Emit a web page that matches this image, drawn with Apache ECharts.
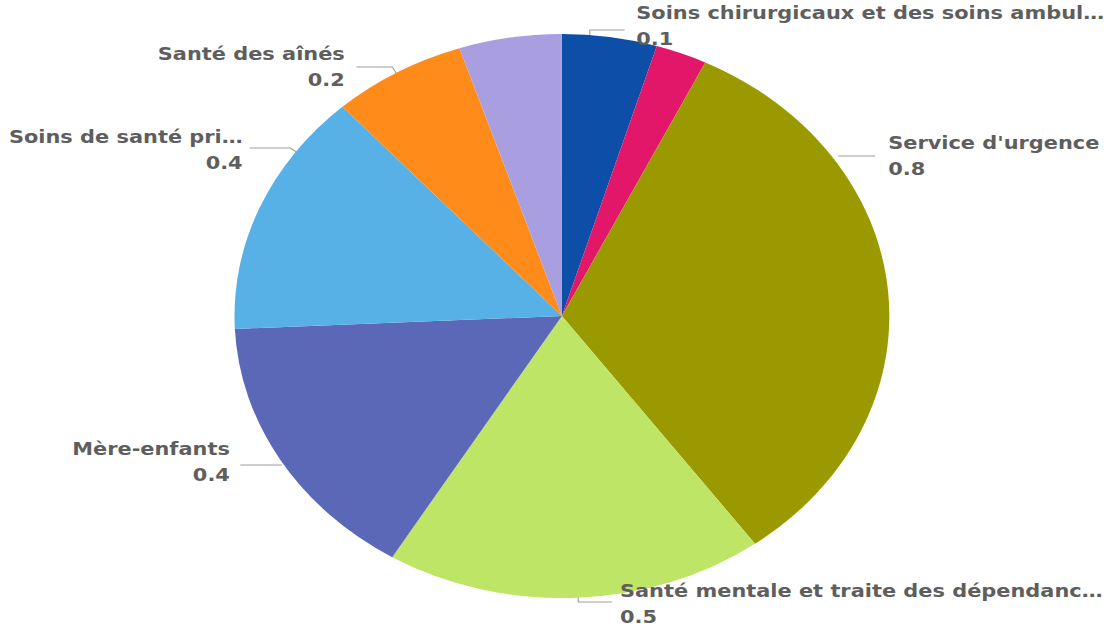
<!DOCTYPE html>
<html>
<head>
<meta charset="utf-8">
<script src="https://cdn.jsdelivr.net/npm/echarts@6/dist/echarts.min.js"></script>
<style>
  html, body { margin: 0; padding: 0; background: #ffffff; overflow: hidden; }
  #wrap { width: 1117px; height: 630px; overflow: hidden; }
  /* the pie is drawn round, then widened into an ellipse */
  #chart { width: 962px; height: 630px; transform: scaleX(1.161); transform-origin: 0 0; }
</style>
</head>
<body>
<div id="wrap"><div id="chart"></div></div>
<script>
// Services and their values
const categories = [
  'Soins chirurgicaux et des soins ambul…',
  'Services diagnostiques',
  "Service d'urgence",
  'Santé mentale et traite des dépendanc…',
  'Mère-enfants',
  'Soins de santé pri…',
  'Santé des aînés',
  'Autres'
];
const values = [0.12, 0.065, 0.84, 0.48, 0.40, 0.36, 0.17, 0.13];
const colors = ['#0D4EA8', '#E3176A', '#9A9A00', '#BFE566', '#5B68B7', '#57B1E6', '#FF8C1A', '#A99FE0'];
const showLabel = [true, false, true, true, true, true, true, false];

// label anchor and leader line for each labelled slice
const labelPlacement = {
  0: { x: 548, y: 26, align: 'left',  line: [[508, 37], [508, 30], [538, 30]] },
  2: { x: 765, y: 156, align: 'left', line: [[722, 156], [754, 156]] },
  3: { x: 534, y: 604, align: 'left', line: [[498, 582], [498, 602], [527, 602]] },
  4: { x: 198, y: 462, align: 'right', line: [[243, 465], [207, 465]] },
  5: { x: 209, y: 150, align: 'right', line: [[270, 163], [250, 148], [215, 148]] },
  6: { x: 297, y: 67, align: 'right', line: [[350, 90], [338, 67], [307, 67]] }
};

const chart = echarts.init(document.getElementById('chart'), null, { renderer: 'svg' });

chart.setOption({
  animation: false,
  backgroundColor: '#ffffff',
  series: [{
    type: 'pie',
    center: [484, 316],
    radius: 282,
    startAngle: 90,
    clockwise: true,
    avoidLabelOverlap: false,
    data: categories.map((name, i) => ({
      name: name,
      value: values[i],
      itemStyle: { color: colors[i] },
      label: {
        show: showLabel[i],
        align: labelPlacement[i] ? labelPlacement[i].align : 'left'
      },
      labelLine: { show: showLabel[i] }
    })),
    label: {
      position: 'outside',
      formatter: p => p.name + '\n' + p.value.toFixed(1),
      color: '#5e5e5e',
      fontFamily: 'DejaVu Sans',
      fontWeight: 'bold',
      fontSize: 18,
      lineHeight: 26
    },
    labelLine: {
      lineStyle: { color: '#a0a0a0', width: 1 }
    },
    labelLayout: function (params) {
      const p = labelPlacement[params.dataIndex];
      if (!p) return {};
      return {
        x: p.x,
        y: p.y,
        align: p.align,
        verticalAlign: 'middle',
        labelLinePoints: p.line
      };
    }
  }]
});
</script>
</body>
</html>
